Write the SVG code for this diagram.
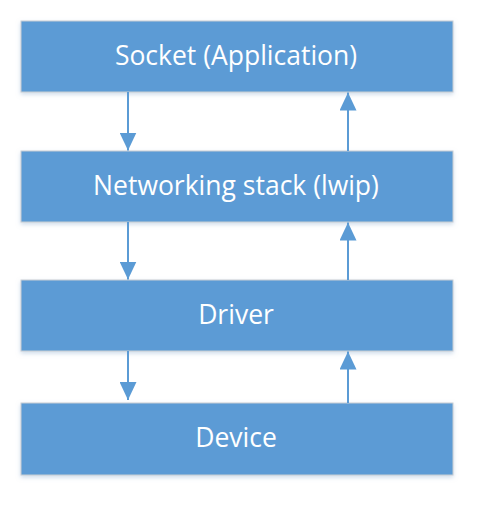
<svg xmlns="http://www.w3.org/2000/svg" width="485" height="506" viewBox="0 0 485 506">
<style>
.box{fill:#5B9BD5;stroke:#C9CED3;stroke-width:1}
.lbl{font-family:"Open Sans","Noto Sans","DejaVu Sans",sans-serif;font-size:26.5px;fill:#FFFFFF;text-anchor:middle;dominant-baseline:central}
.conn{stroke:#5B9BD5;stroke-width:2;fill:none}
</style>
<defs>
<marker id="arr" viewBox="0 0 18 17" refX="18" refY="8.5" markerWidth="18" markerHeight="17" markerUnits="userSpaceOnUse" orient="auto">
<path d="M0,0 L18,8.5 L0,17 Z" fill="#5B9BD5"/>
</marker>
<filter id="sh" x="-5%" y="-10%" width="110%" height="130%">
<feDropShadow dx="0" dy="2" stdDeviation="2" flood-color="#9DB9D6" flood-opacity="0.5"/>
</filter>
</defs>
<g id="socket"><rect class="box" x="21" y="21" width="432" height="71" filter="url(#sh)"/><text class="lbl" x="236" y="55">Socket (Application)</text></g>
<g id="stack"><rect class="box" x="21" y="151" width="432" height="71" filter="url(#sh)"/><text class="lbl" x="236" y="185">Networking stack (lwip)</text></g>
<g id="driver"><rect class="box" x="21" y="280" width="432" height="71" filter="url(#sh)"/><text class="lbl" x="236" y="314">Driver</text></g>
<g id="device"><rect class="box" x="21" y="403" width="432" height="72" filter="url(#sh)"/><text class="lbl" x="236" y="437">Device</text></g>
<g id="connectors">
<line class="conn" x1="128" y1="92" x2="128" y2="150.5" marker-end="url(#arr)"/>
<line class="conn" x1="348" y1="151" x2="348" y2="92.5" marker-end="url(#arr)"/>
<line class="conn" x1="128" y1="222" x2="128" y2="279.5" marker-end="url(#arr)"/>
<line class="conn" x1="348" y1="280" x2="348" y2="222.5" marker-end="url(#arr)"/>
<line class="conn" x1="128" y1="351" x2="128" y2="400" marker-end="url(#arr)"/>
<line class="conn" x1="348" y1="403" x2="348" y2="351.5" marker-end="url(#arr)"/>
</g>
</svg>
